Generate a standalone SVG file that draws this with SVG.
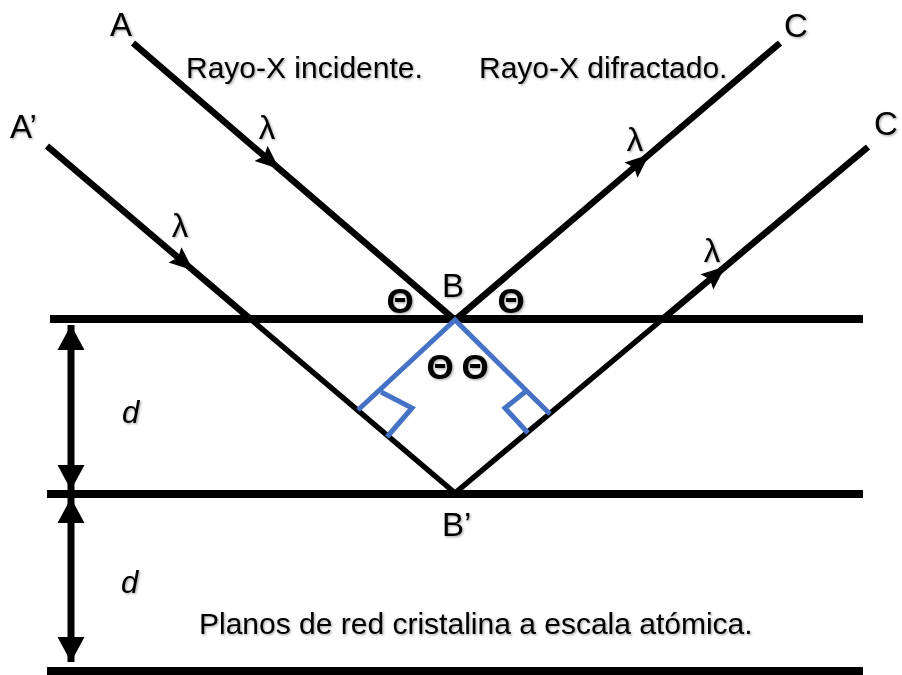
<svg xmlns="http://www.w3.org/2000/svg" width="902" height="675" viewBox="0 0 902 675">
<defs>
<style>
.lbl{font-family:"Liberation Sans",Arial,sans-serif;fill:#000;filter:url(#sh)}
.big{font-size:33px}
.txt{font-size:30px}
.lam{font-size:33px;text-anchor:middle}
.th{font-size:35px;font-weight:bold;text-anchor:middle}
.d{font-size:31px;font-style:italic}
.plane{stroke:#000;stroke-width:8;fill:none}
.ray{stroke:#000;stroke-width:6.5;fill:none}
.rayin{stroke:#000;stroke-width:5.5;fill:none}
.blue{stroke:#4472C4;stroke-width:5;fill:none;stroke-linejoin:miter}
.dim{stroke:#000;stroke-width:7;fill:none}
</style>
<filter id="sh" x="-10%" y="-20%" width="130%" height="150%">
<feDropShadow dx="1.2" dy="1.2" stdDeviation="0.8" flood-color="#000" flood-opacity="0.35"/>
</filter>
<marker id="arr" markerUnits="userSpaceOnUse" markerWidth="30" markerHeight="24" viewBox="-25 -12 30 24" refX="0" refY="0" orient="auto">
<path d="M3,0 L-21,-10 L-17,0 L-21,10 Z" fill="#000"/>
</marker>
<marker id="dimArr" markerUnits="userSpaceOnUse" markerWidth="30" markerHeight="30" viewBox="-26 -15 30 30" refX="0" refY="0" orient="auto-start-reverse">
<path d="M0,0 L-25,-13.5 L-25,13.5 Z" fill="#000"/>
</marker>
</defs>

<g id="planes">
<line id="plane-top" class="plane" x1="50" y1="319" x2="863" y2="319"/>
<line id="plane-mid" class="plane" x1="47" y1="494" x2="863" y2="494"/>
<line id="plane-bot" class="plane" x1="47" y1="671" x2="863" y2="671"/>
</g>

<g id="connectors">
<path id="ray-A" class="ray" d="M133,43 L277,167 L455,320" marker-mid="url(#arr)"/>
<path id="ray-Ap-out" class="ray" d="M47,146 L191,268.5 L251.6,320" marker-mid="url(#arr)"/>
<path id="ray-Ap-in" class="rayin" d="M251.6,320 L455,493"/>
<path id="ray-C" class="ray" d="M455,320 L647,156.4 L780,43" marker-mid="url(#arr)"/>
<path id="ray-Cp-in" class="rayin" d="M455,493 L661.5,320"/>
<path id="ray-Cp-out" class="ray" d="M661.5,320 L723,268.4 L868,147" marker-mid="url(#arr)"/>
<line id="dim-1" class="dim" x1="71" y1="325" x2="71" y2="490" marker-start="url(#dimArr)" marker-end="url(#dimArr)"/>
<line id="dim-2" class="dim" x1="71" y1="498" x2="71" y2="662" marker-start="url(#dimArr)" marker-end="url(#dimArr)"/>
</g>

<g id="construction">
<path class="blue" d="M358,410 L455,320 L550,414"/>
<path class="blue" d="M381,392 L412,408 L387,437"/>
<path class="blue" d="M525,392 L505,408 L528,433"/>
</g>

<g id="labels">
<text class="lbl big" x="110" y="36">A</text>
<text class="lbl big" x="10" y="138">A’</text>
<text class="lbl big" x="784" y="37">C</text>
<text class="lbl big" x="874" y="135">C</text>
<text class="lbl big" x="442" y="297">B</text>
<text class="lbl big" x="442" y="536">B’</text>
<text class="lbl txt" x="186" y="78">Rayo-X incidente.</text>
<text class="lbl txt" x="479" y="78">Rayo-X difractado.</text>
<text class="lbl txt" x="199" y="634">Planos de red cristalina a escala atómica.</text>
<text class="lbl lam" x="267" y="139">λ</text>
<text class="lbl lam" x="180" y="237">λ</text>
<text class="lbl lam" x="635" y="151">λ</text>
<text class="lbl lam" x="712" y="262">λ</text>
<text class="lbl th" x="400" y="313">Θ</text>
<text class="lbl th" x="511" y="313">Θ</text>
<text class="lbl th" x="440" y="379">Θ</text>
<text class="lbl th" x="475" y="379">Θ</text>
<text class="lbl d" x="122" y="423">d</text>
<text class="lbl d" x="121" y="593">d</text>
</g>
</svg>
